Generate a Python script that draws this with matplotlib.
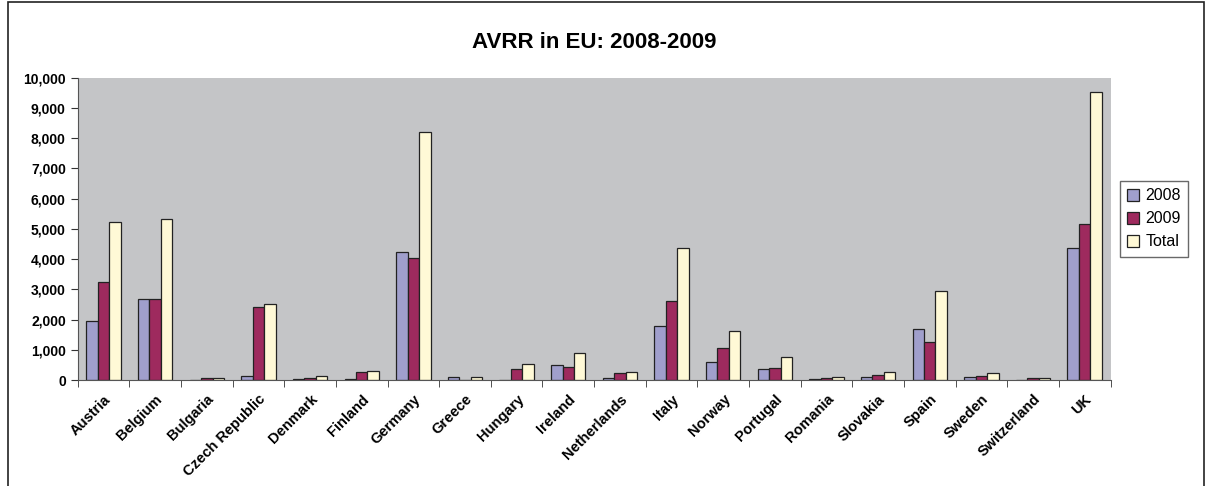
import matplotlib
matplotlib.use("Agg")
import matplotlib.pyplot as plt
import matplotlib.transforms as mtransforms
import numpy as np
from matplotlib.patches import Rectangle
from matplotlib.ticker import FuncFormatter, MultipleLocator

countries = ["Austria", "Belgium", "Bulgaria", "Czech Republic", "Denmark", "Finland",
             "Germany", "Greece", "Hungary", "Ireland", "Netherlands", "Italy", "Norway",
             "Portugal", "Romania", "Slovakia", "Spain", "Sweden", "Switzerland", "UK"]
v2008 = [1970, 2690, 10, 150, 50, 40, 4220, 90, 0, 490, 70, 1790, 590, 360, 30, 110, 1690, 110, 0, 4380]
v2009 = [3250, 2670, 60, 2430, 80, 250, 4030, 0, 350, 420, 220, 2600, 1050, 390, 80, 160, 1250, 150, 80, 5150]
vtotal = [5220, 5340, 70, 2530, 140, 290, 8220, 90, 520, 880, 280, 4360, 1610, 750, 110, 250, 2930, 220, 80, 9520]

series = [("2008", v2008, "#A09FCC"), ("2009", v2009, "#9E2A5E"), ("Total", vtotal, "#FFF9D6")]

plt.rcParams['font.family'] = ['Liberation Sans', 'DejaVu Sans']

fig = plt.figure(figsize=(12.08, 4.86), dpi=100)
fig.patches.append(Rectangle((8/1208, -0.1), (1204-8)/1208, 1.1 - 2/486, transform=fig.transFigure,
                             fill=False, edgecolor="#222222", linewidth=1.2))

ax = fig.add_axes([0.0643, 0.218, 0.855, 0.622])
ax.set_facecolor("#C4C5C7")
x = np.arange(len(countries))
w = 0.222
for i, (name, vals, col) in enumerate(series):
    ax.bar(x + (i - 1) * w, vals, width=w, color=col, edgecolor="#222222", linewidth=0.9, label=name)

ax.set_xlim(-0.5, len(countries) - 0.5)
ax.set_ylim(0, 10000)
ax.yaxis.set_major_locator(MultipleLocator(1000))
ax.yaxis.set_major_formatter(FuncFormatter(lambda v, p: f"{int(v):,}"))
ax.set_xticks(x)
ax.set_xticklabels([""] * len(countries))
lbl_tr = ax.get_xaxis_transform() + mtransforms.ScaledTranslation(5/100, -17/100, fig.dpi_scale_trans)
for xi, name in zip(x, countries):
    ax.text(xi, 0, name, transform=lbl_tr, rotation=45, ha="right", va="center",
            rotation_mode="anchor", fontweight="bold", fontsize=10.5)
ax.set_xticks(np.arange(-0.5, len(countries), 1), minor=True)
ax.tick_params(axis="x", which="major", length=0)
ax.tick_params(axis="x", which="minor", length=5, color="#333333", direction="out")
ax.tick_params(axis="y", length=5, color="#333333", labelsize=10)
for lbl in ax.get_yticklabels():
    lbl.set_fontweight("bold")
for s in ["top", "right"]:
    ax.spines[s].set_visible(False)
ax.spines["left"].set_color("#555555")
ax.spines["bottom"].set_color("#555555")

fig.text(0.4917, 0.912, "AVRR in EU: 2008-2009", ha="center", va="center", fontsize=16, fontweight="bold")

leg = ax.legend(loc="center left", bbox_to_anchor=(1.009, 0.533), fontsize=11.5, frameon=True,
                fancybox=False, edgecolor="#444444", handlelength=0.75, handleheight=0.75,
                handletextpad=0.4, borderpad=0.45, labelspacing=0.5, borderaxespad=0)
leg.get_frame().set_linewidth(1.0)

fig.savefig("out.png", dpi=100)
